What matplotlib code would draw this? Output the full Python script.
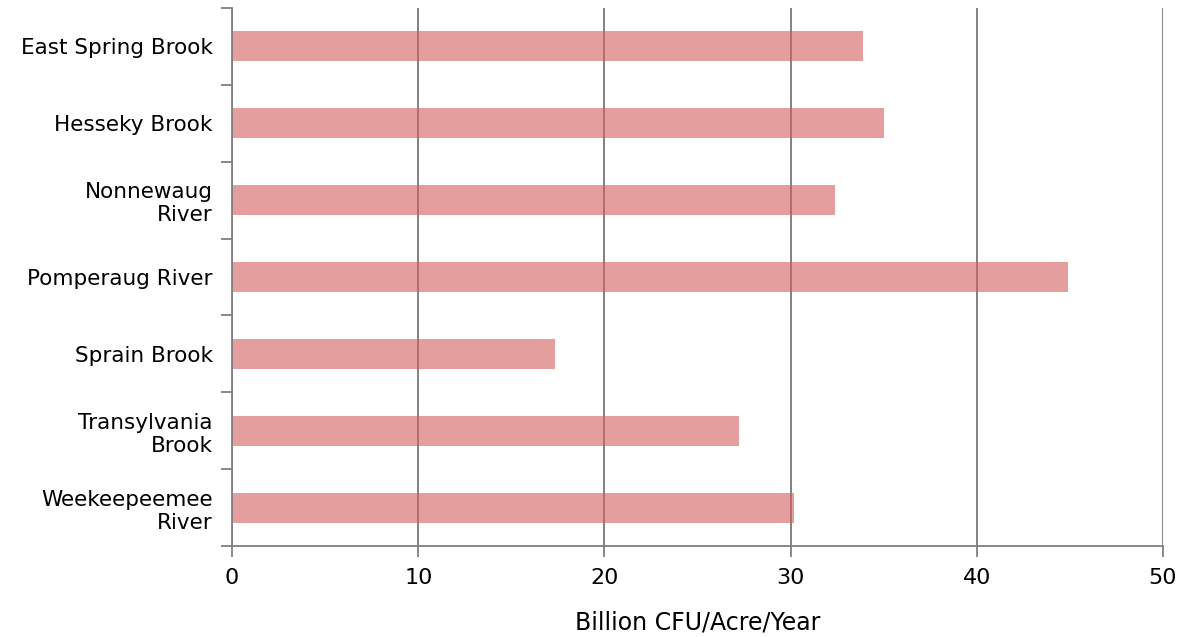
import matplotlib.pyplot as plt
import numpy as np

plt.rcParams['font.family'] = ['DejaVu Sans']

streams = ['East Spring Brook', 'Hesseky Brook', 'Nonnewaug\nRiver', 'Pomperaug River',
           'Sprain Brook', 'Transylvania\nBrook', 'Weekeepeemee\nRiver']
loads = [33.9, 35.0, 32.4, 44.9, 17.35, 27.2, 30.2]
xticks = [0, 10, 20, 30, 40, 50]

fig = plt.figure(figsize=(11.87, 6.37), dpi=100)
ax = fig.add_axes([0.1955, 0.1429, 0.7843, 0.8445])

y = np.arange(len(streams))
ax.barh(y, loads, height=0.39, color='#D55E5E', alpha=0.6, zorder=2)

ax.set_xlim(0, 50)
ax.set_ylim(len(streams) - 0.5, -0.5)
ax.set_xticks(xticks)
ax.set_xticklabels([str(t) for t in xticks], fontsize=16)
ax.xaxis.grid(True, color='#777777', linewidth=1.3, zorder=1)
ax.set_axisbelow(True)

ax.set_yticks(y)
ax.set_yticklabels(streams, fontsize=15.5, ha='right', multialignment='right',
                   linespacing=1.2)
ax.tick_params(axis='y', length=0, pad=14)
ax.set_yticks(np.arange(len(streams) + 1) - 0.5, minor=True)
ax.tick_params(axis='y', which='minor', length=8, color='#808080', width=1.3)
ax.tick_params(axis='x', length=8, color='#808080', width=1.3, pad=8)

for s in ['top', 'right']:
    ax.spines[s].set_visible(False)
for s in ['left', 'bottom']:
    ax.spines[s].set_color('#808080')
    ax.spines[s].set_linewidth(1.3)

ax.set_xlabel('Billion CFU/Acre/Year', fontsize=17, labelpad=16)

fig.savefig('out.png', dpi=100)
